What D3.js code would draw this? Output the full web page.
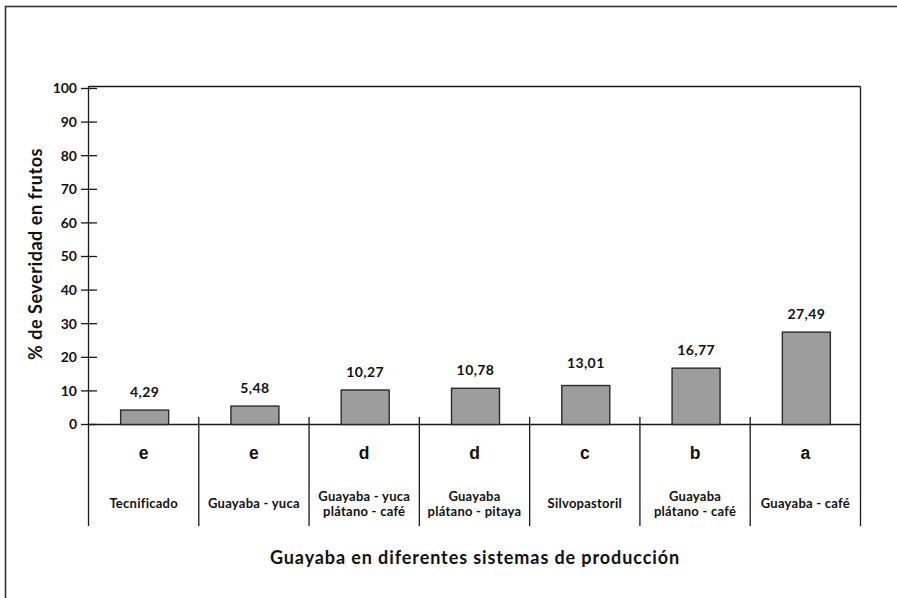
<!DOCTYPE html>
<html>
<head>
<meta charset="utf-8">
<script src="https://cdn.jsdelivr.net/npm/d3@7"></script>
<style>
  html, body { margin: 0; padding: 0; background: #fff; }
  svg { display: block; }
</style>
</head>
<body>
<svg id="chart" width="897" height="598"></svg>
<script>
// ---- data ----
const categories = ["Tecnificado", "Guayaba - yuca", "Guayaba - yuca plátano - café",
  "Guayaba plátano - pitaya", "Silvopastoril", "Guayaba plátano - café", "Guayaba - café"];
const categoryLines = [
  ["Tecnificado"],
  ["Guayaba - yuca"],
  ["Guayaba - yuca", "plátano - café"],
  ["Guayaba", "plátano - pitaya"],
  ["Silvopastoril"],
  ["Guayaba", "plátano - café"],
  ["Guayaba - café"]
];
const values = [4.29, 5.48, 10.27, 10.78, 13.01, 16.77, 27.49];       // labelled values
const barDrawn = [4.29, 5.48, 10.27, 10.78, 11.6, 16.77, 27.49];      // bar heights as drawn in the picture
const valueLabels = ["4,29", "5,48", "10,27", "10,78", "13,01", "16,77", "27,49"];
const letters = ["e", "e", "d", "d", "c", "b", "a"];
const yTicks = [0, 10, 20, 30, 40, 50, 60, 70, 80, 90, 100];
const yTitle = "% de Severidad en frutos";
const xTitle = "Guayaba en diferentes sistemas de producción";

// ---- layout ----
const svg = d3.select("#chart");
const pLeft = 88.5, pRight = 860.5, pTop = 86.5, pBottom = 424.5, sepBottom = 526;
const calibri = "Lato, 'Open Sans', sans-serif";
const ink = "#1a1a1a";

const x = d3.scaleBand().domain(categories).range([pLeft, pRight]).padding(0);
const y = d3.scaleLinear().domain([0, 100]).range([pBottom, 88.5]);

// outer frame
svg.append("rect").attr("x", 5.5).attr("y", 6.5).attr("width", 900).attr("height", 600)
  .attr("fill", "none").attr("stroke", "#333").attr("stroke-width", 1.6);

// plot frame: top, right
svg.append("line").attr("x1", pLeft).attr("x2", pRight).attr("y1", pTop).attr("y2", pTop)
  .attr("stroke", ink).attr("stroke-width", 1.3);
svg.append("line").attr("x1", pRight).attr("x2", pRight).attr("y1", pTop).attr("y2", sepBottom)
  .attr("stroke", ink).attr("stroke-width", 1.3);
// left axis line
svg.append("line").attr("x1", pLeft).attr("x2", pLeft).attr("y1", pTop).attr("y2", sepBottom)
  .attr("stroke", ink).attr("stroke-width", 1.3);
// baseline
svg.append("line").attr("x1", pLeft).attr("x2", pRight).attr("y1", y(0)).attr("y2", y(0))
  .attr("stroke", ink).attr("stroke-width", 1.3);

// y ticks
const yAxis = svg.append("g");
yTicks.forEach(t => {
  yAxis.append("line").attr("x1", 81).attr("x2", 97).attr("y1", y(t)).attr("y2", y(t))
    .attr("stroke", ink).attr("stroke-width", 1.3);
  yAxis.append("text").attr("x", 77).attr("y", y(t)).attr("dy", "0.35em")
    .attr("text-anchor", "end").attr("font-family", calibri).attr("font-weight", "bold")
    .attr("font-size", 14).attr("fill", "#111").text(t);
});

// separators
categories.slice(1).forEach(c => {
  svg.append("line").attr("x1", x(c)).attr("x2", x(c)).attr("y1", 417).attr("y2", sepBottom)
    .attr("stroke", ink).attr("stroke-width", 1.3);
});

// bars
const bw = 48;
svg.append("g").selectAll("rect").data(categories).join("rect")
  .attr("x", (c) => x(c) + x.bandwidth() / 2 + 1 - bw / 2)
  .attr("y", (c, i) => y(barDrawn[i]))
  .attr("width", bw)
  .attr("height", (c, i) => y(0) - y(barDrawn[i]))
  .attr("fill", "#9d9d9d").attr("stroke", "#2b2b2b").attr("stroke-width", 1.4);

// value labels
svg.append("g").selectAll("text").data(categories).join("text")
  .attr("x", (c) => x(c) + x.bandwidth() / 2 + 1)
  .attr("y", (c, i) => y(values[i]) - 13)
  .attr("text-anchor", "middle").attr("font-family", calibri).attr("font-weight", "bold")
  .attr("font-size", 14).attr("letter-spacing", 0.4).attr("fill", "#111")
  .text((c, i) => valueLabels[i]);

// letters
svg.append("g").selectAll("text").data(categories).join("text")
  .attr("x", (c) => x(c) + x.bandwidth() / 2)
  .attr("y", 459)
  .attr("text-anchor", "middle").attr("font-family", "'Liberation Sans', Arial, sans-serif")
  .attr("font-weight", "bold").attr("font-size", 17.5).attr("fill", "#111")
  .text((c, i) => letters[i]);

// category labels
categories.forEach((c, i) => {
  const lines = categoryLines[i];
  const cx = x(c) + x.bandwidth() / 2;
  const t = svg.append("text").attr("text-anchor", "middle").attr("font-family", calibri)
    .attr("font-weight", "bold").attr("font-size", 13).attr("letter-spacing", 0.25).attr("fill", "#111");
  if (lines.length === 1) {
    t.append("tspan").attr("x", cx).attr("y", 508).text(lines[0]);
  } else {
    t.append("tspan").attr("x", cx).attr("y", 501).text(lines[0]);
    t.append("tspan").attr("x", cx).attr("y", 515.5).text(lines[1]);
  }
});

// axis titles
svg.append("text").attr("transform", "translate(42,254) rotate(-90)")
  .attr("text-anchor", "middle").attr("font-family", calibri).attr("font-weight", "bold")
  .attr("font-size", 18).attr("letter-spacing", 0.55).attr("fill", "#111").text(yTitle);
svg.append("text").attr("x", 475).attr("y", 564)
  .attr("text-anchor", "middle").attr("font-family", calibri).attr("font-weight", "bold")
  .attr("font-size", 18).attr("letter-spacing", 0.9).attr("fill", "#111").text(xTitle);
</script>
</body>
</html>
